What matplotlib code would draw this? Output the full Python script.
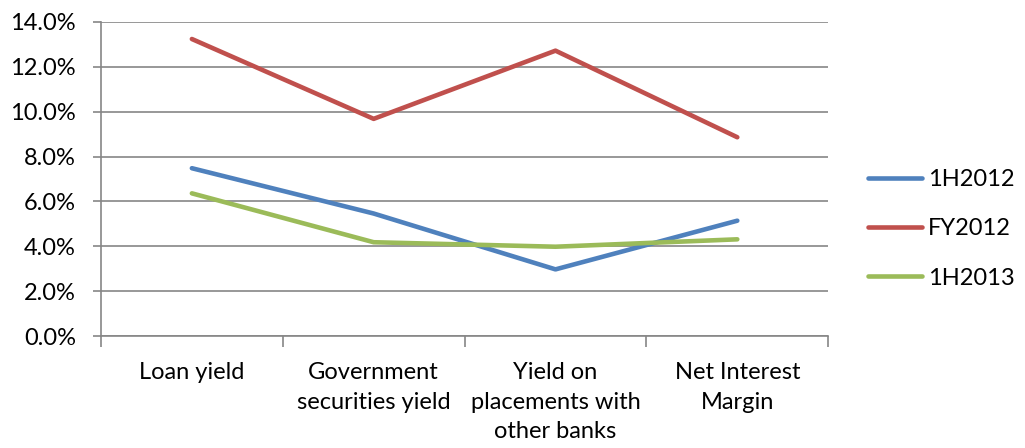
import numpy as np
import matplotlib
matplotlib.use("Agg")
import matplotlib.pyplot as plt
from matplotlib.ticker import PercentFormatter

categories = ["Loan yield", "Government\nsecurities yield",
              "Yield on\nplacements with\nother banks", "Net Interest\nMargin"]
series_names = ["1H2012", "FY2012", "1H2013"]
h1_2012 = [7.48, 5.46, 2.97, 5.14]
fy_2012 = [13.24, 9.68, 12.72, 8.86]
h1_2013 = [6.36, 4.18, 3.98, 4.31]
colors = ["#4F81BD", "#C0504D", "#9BBB59"]

plt.rcParams['font.family'] = ['Lato', 'DejaVu Sans']

fig = plt.figure(figsize=(10.25, 4.48), dpi=100)
ax = fig.add_axes([0.0985, 0.25, 0.7095, 0.701])

x = np.arange(len(categories))
for name, vals, c in zip(series_names, [h1_2012, fy_2012, h1_2013], colors):
    ax.plot(x, vals, color=c, lw=3.3, label=name, solid_capstyle='round')

ax.set_xlim(-0.5, len(categories) - 0.5)
ax.set_ylim(0, 14)
ax.set_yticks(np.arange(0, 14.1, 2))
ax.yaxis.set_major_formatter(PercentFormatter(decimals=1))
ax.grid(axis='y', color='#868686', lw=1.2)
ax.set_axisbelow(True)

ax.set_xticks(x)
ax.set_xticklabels(categories, fontsize=17, linespacing=1.5)
ax.set_xticks(np.arange(-0.5, len(categories)), minor=True)
ax.tick_params(axis='x', which='major', length=0, pad=19)
ax.tick_params(axis='x', which='minor', length=8, color='#868686', width=1.2, direction='out')
ax.tick_params(axis='y', length=6, color='#868686', width=1.2, labelsize=17, pad=12)

for s in ['top', 'right']:
    ax.spines[s].set_visible(False)
for s in ['left', 'bottom']:
    ax.spines[s].set_color('#868686')
    ax.spines[s].set_linewidth(1.2)

fig.legend(loc='center left', bbox_to_anchor=(0.826, 0.489), frameon=False,
           fontsize=17, handlelength=2.3, handletextpad=0.25, labelspacing=1.2)

fig.savefig("out.png", dpi=100)
